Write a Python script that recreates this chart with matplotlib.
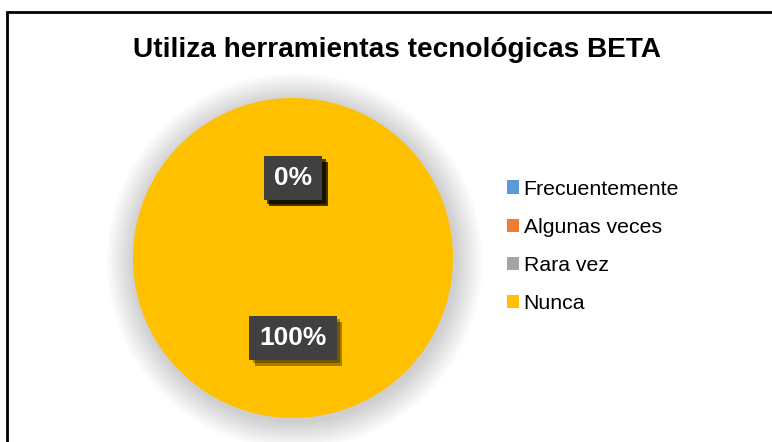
import matplotlib.pyplot as plt
import matplotlib.patheffects as pe
from matplotlib.patches import Rectangle, Circle

plt.rcParams['font.family'] = ['Liberation Sans', 'DejaVu Sans']

categorias = ['Frecuentemente', 'Algunas veces', 'Rara vez', 'Nunca']
valores = [0, 0, 0, 100]
colores = ['#5B9BD5', '#ED7D31', '#A5A5A5', '#FFC000']
titulo = 'Utiliza herramientas tecnológicas BETA'

W, H = 772, 442
fig = plt.figure(figsize=(W / 100, H / 100), dpi=100)

# marco del gráfico (se sale por la derecha y por abajo)
fig.patches.append(Rectangle((7 / W, -0.1), 1.2, 1 - 12 / H + 0.1,
                             transform=fig.transFigure, fill=False,
                             lw=2, ec='black'))

fig.text(397 / W, 1 - 50 / H, titulo, ha='center', va='center',
         fontsize=20.2, fontweight='bold')

cx, cy, r = 293, 258, 160
ax = fig.add_axes([(cx - r) / W, (H - cy - r) / H, 2 * r / W, 2 * r / H])

# sombra difusa alrededor del pastel
for i in range(16):
    ax.add_patch(Circle((0.01, -0.02), 1.0 + 0.011 * (16 - i), color='black',
                        alpha=0.011, lw=0, zorder=0, clip_on=False))

wedges, _, autotexts = ax.pie(valores, colors=colores, startangle=90,
                              counterclock=False, autopct='%1.0f%%',
                              pctdistance=0.5, radius=1,
                              wedgeprops=dict(lw=0))
for t in autotexts:
    t.set_color('white')
    t.set_fontsize(19)
    t.set_fontweight('bold')
    t.set_bbox(dict(boxstyle='square,pad=0.38', fc='#404040', ec='none'))
    t.get_bbox_patch().set_path_effects(
        [pe.SimplePatchShadow(offset=(4, -4), shadow_rgbFace='black', alpha=0.35),
         pe.SimplePatchShadow(offset=(2.5, -2.5), shadow_rgbFace='black', alpha=0.3),
         pe.Normal()])
    t.set_zorder(5)

ax.set_xlim(-1, 1)
ax.set_ylim(-1, 1)
ax.set_aspect('equal')
ax.axis('off')

leg = fig.legend(wedges, categorias, loc='upper left',
                 bbox_to_anchor=(496 / W, 1 - 169 / H), frameon=False,
                 fontsize=15.3, handlelength=0.6, handleheight=0.6,
                 handletextpad=0.2, labelspacing=0.9, borderpad=0)

fig.savefig('out.png', dpi=100)
